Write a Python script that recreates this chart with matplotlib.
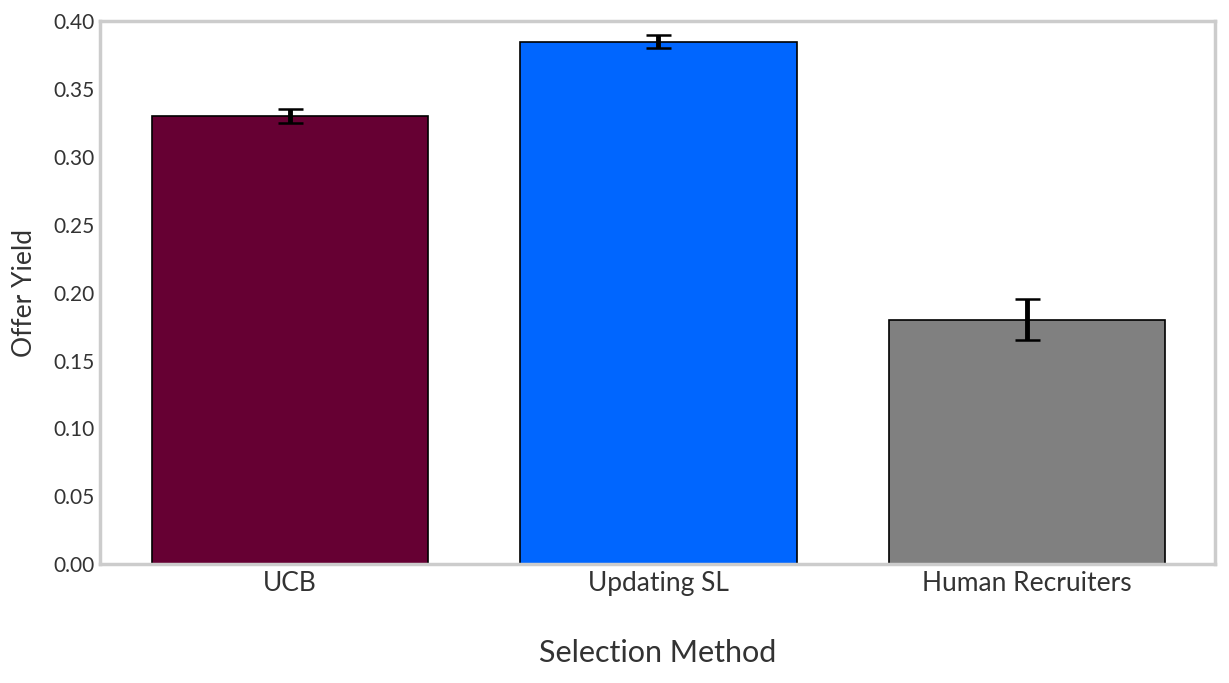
import numpy as np
import matplotlib.pyplot as plt

plt.rcParams['font.family'] = ['Lato', 'DejaVu Sans']

methods = ['UCB', 'Updating SL', 'Human Recruiters']
offer_yield = [0.330, 0.385, 0.180]
errors = [0.005, 0.005, 0.015]
colors = ['#660033', '#0066ff', '#808080']

fig = plt.figure(figsize=(12.29, 6.83), dpi=100)
ax = fig.add_axes([0.0814, 0.174, 0.9072, 0.795])

x = np.arange(len(methods))
ax.bar(x, offer_yield, width=0.75, color=colors, edgecolor='black', linewidth=1.2)
ax.errorbar(x, offer_yield, yerr=errors, fmt='none', ecolor='black',
            elinewidth=3.5, capsize=9, capthick=1.8)

ax.set_xlim(-0.515, 2.51)
ax.set_ylim(0, 0.40)
ax.set_xticks(x)
ax.set_xticklabels(methods)
ax.set_yticks(np.arange(0, 0.401, 0.05))
ax.yaxis.set_major_formatter(plt.FormatStrFormatter('%.2f'))
ax.tick_params(length=0, colors='#333333')
ax.tick_params(axis='x', labelsize=19, pad=5)
ax.tick_params(axis='y', labelsize=15, pad=4)

for s in ax.spines.values():
    s.set_color('#cccccc')
    s.set_linewidth(2.5)

ax.set_xlabel('Selection Method', fontsize=22, color='#333333', labelpad=31)
ax.set_ylabel('Offer Yield', fontsize=19, color='#333333', labelpad=12)

fig.savefig('out.png', dpi=100)
